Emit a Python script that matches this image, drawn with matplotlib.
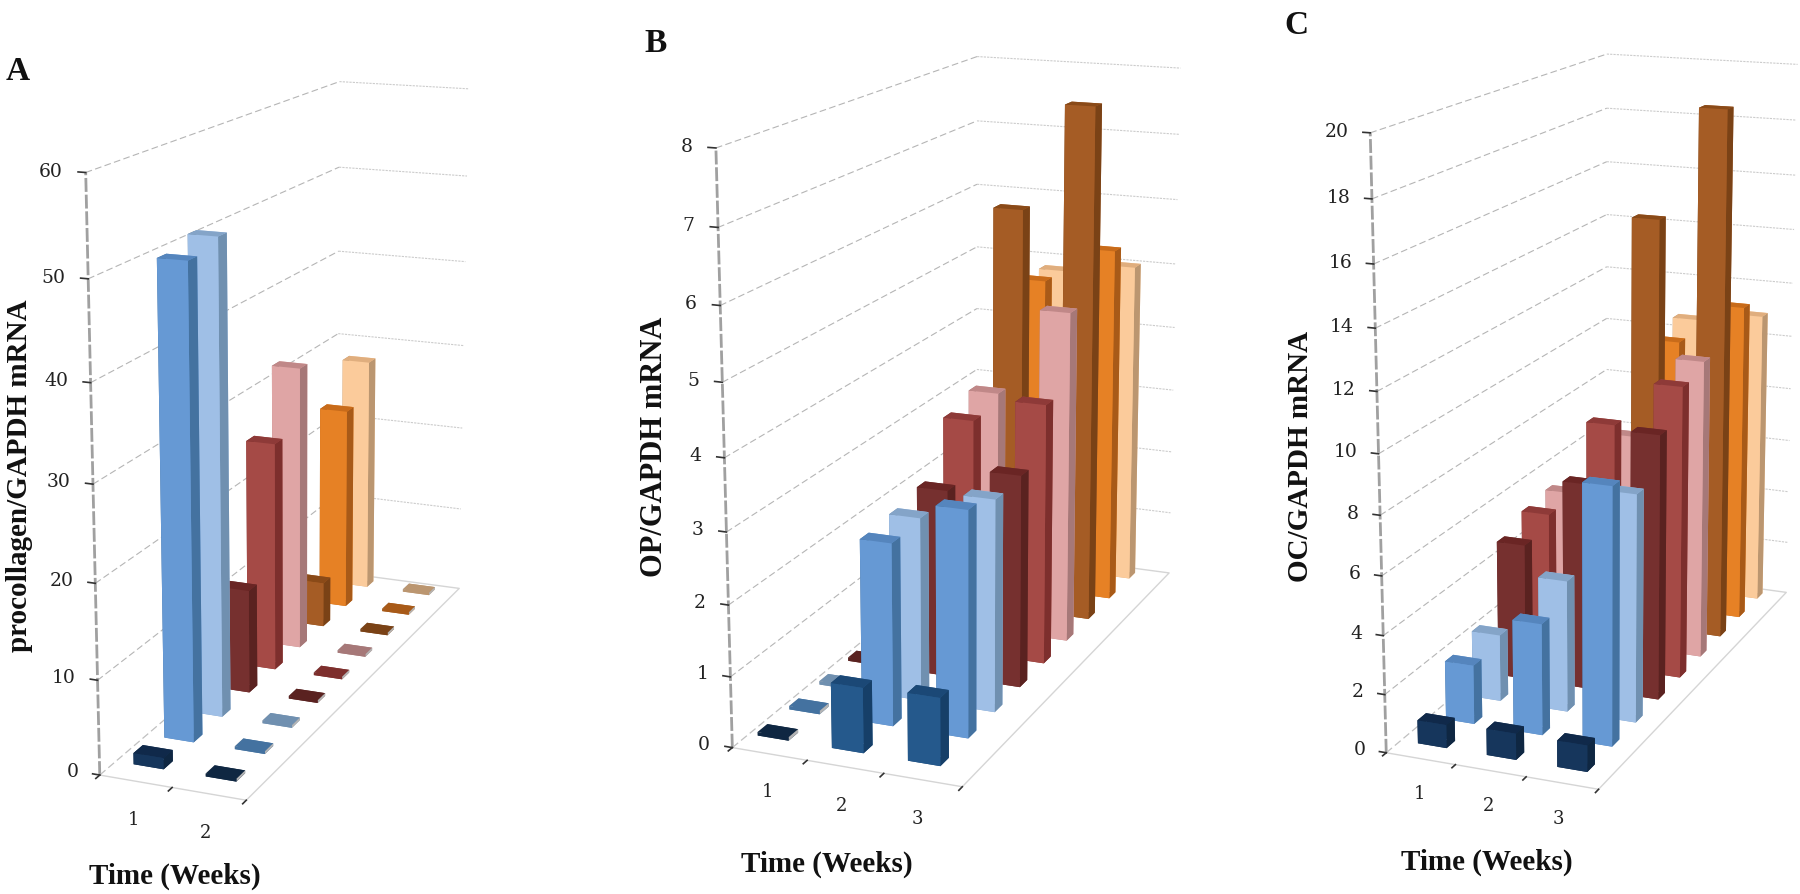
import numpy as np
import matplotlib
matplotlib.use('Agg')
import matplotlib.pyplot as plt

plt.rcParams['font.family'] = ['Liberation Serif', 'DejaVu Serif']

W, H = 1800, 895

# front to back along the depth axis
# dark blue, blue, light blue, dark red, red, pink, dark orange, orange, peach
a_week1 = [1.2, 50, 51, 11.5, 25.7, 32.3, 5.2, 23.7, 27.8]
a_week2 = [0.3, 0.3, 0.3, 0.3, 0.3, 0.3, 0.3, 0.3, 0.3]
b_week1 = [0.05, 0.05, 0.05, 0.05, 0.05, 0.05, 0.05, 0.05, 0.05]
b_week2 = [0.92, 2.6, 2.65, 2.75, 3.5, 3.65, 6.17, 4.9, 4.85]
b_week3 = [0.95, 3.2, 3.05, 3.1, 3.85, 4.95, 7.75, 5.45, 5.0]
c_week1 = [0.8, 2.05, 2.35, 4.85, 5.3, 5.45, 3.0, 3.0, 3.0]
c_week2 = [0.9, 3.85, 4.6, 7.3, 8.8, 7.8, 15.1, 10.2, 10.55]
c_week3 = [0.9, 8.8, 7.9, 9.3, 10.4, 10.75, 19.1, 11.7, 10.9]

a_ticks = [0, 10, 20, 30, 40, 50, 60]
b_ticks = [0, 1, 2, 3, 4, 5, 6, 7, 8]
c_ticks = [0, 2, 4, 6, 8, 10, 12, 14, 16, 18, 20]

# front, side, top for each series
series_colors = [
    ('#16365c', '#0f2742', '#10294a'),
    ('#6699d4', '#4472a0', '#5585bd'),
    ('#9fbfe6', '#7090b0', '#84a4c8'),
    ('#76302f', '#5a2220', '#6a2524'),
    ('#a54a46', '#7d2f2d', '#8e3a38'),
    ('#dfa5a5', '#a67878', '#c08888'),
    ('#a55c25', '#7a4216', '#8a4a18'),
    ('#e68125', '#a85a18', '#c86b1a'),
    ('#fbcb9b', '#bb9670', '#e0ae7e'),
]
b_first_color = ('#25598c', '#163f68', '#1b4876')
tile_shadow = '#b4b4b4'


def draw_panel(rect, weeks, ticks, box, bar_x, first_color=None):
    # rect is left, top, side in pixels of the reference
    left, top, side = rect
    ax = plt.gcf().add_axes([left / W, 1 - (top + side) / H, side / W, side / H], projection='3d')
    n_weeks = len(weeks)
    n_rows = len(weeks[0])
    ax.computed_zorder = False
    ax.set_proj_type('persp', focal_length=0.55)
    ax.view_init(elev=15.5, azim=-68)
    ax.set_box_aspect((box[0] * n_weeks, box[1], box[2]))
    ax.set_xlim(0, n_weeks)
    ax.set_ylim(0, n_rows)
    ax.set_zlim(0, ticks[-1])
    ax.set_axis_off()

    # walls
    for t in ticks[1:]:
        ax.plot([0, 0], [0, n_rows], [t, t], color='#b5b5b5', lw=0.8, ls=(0, (6, 3)), zorder=1)
        ax.plot([0, n_weeks], [n_rows, n_rows], [t, t], color='#cccccc', lw=0.8, ls=(0, (2, 1)), zorder=1)
    ax.plot([0, 0], [0, 0], [0, ticks[-1]], color='#a0a0a0', lw=2, ls=(0, (5, 1)), zorder=1)
    ax.plot([0, n_weeks, n_weeks, 0], [0, 0, n_rows, n_rows], [0, 0, 0, 0], color='#d5d5d5', lw=1, zorder=1)
    ax.plot([0, 0], [0, n_rows], [0, 0], color='#c0c0c0', lw=0.9, ls=(0, (6, 3)), zorder=1)

    # ticks and labels
    for t in ticks:
        ax.plot([-0.1, 0], [0, 0], [t, t], color='#333333', lw=1.2, zorder=2)
        ax.text(-0.3, 0, t, str(t), ha='right', va='center', fontsize=13.5, family='DejaVu Serif',
                color='#222222', zorder=2)
    for i in range(n_weeks + 1):
        ax.plot([i, i], [0, -0.12], [0, 0], color='#333333', lw=1.2, zorder=2)
    for i in range(n_weeks):
        ax.text(0.95 + i * 0.95, -1.1, 0, str(i + 1), ha='center', va='center', fontsize=13, family='DejaVu Serif',
                color='#222222', zorder=2)

    # bars from the back row to the front, so the nearer ones cover the others
    order = 3
    for j in reversed(range(n_rows)):
        for i in range(n_weeks):
            value = weeks[i][j]
            front, sidec, topc = series_colors[j]
            if j == 0 and first_color is not None and value > 0.02 * ticks[-1]:
                front, sidec, topc = first_color
            if value < 0.01 * ticks[-1]:
                # nearly flat bars only show a dark top and a grey edge
                front, sidec, topc = sidec, tile_shadow, sidec
            ax.bar3d(i + bar_x, j + 0.5, 0, 0.42, 0.3, value,
                     color=[topc, topc, front, front, sidec, sidec],
                     shade=False, zorder=order)
            order += 1
    return ax


fig = plt.figure(figsize=(W / 100, H / 100), dpi=100)

draw_panel((-125.5, 8.5, 823), [a_week1, a_week2], a_ticks, (68, 563, 520), 0.25)
draw_panel((537, -23, 844), [b_week1, b_week2, b_week3], b_ticks, (71, 563, 520), 0.12, b_first_color)
draw_panel((1183.5, -6.5, 817), [c_week1, c_week2, c_week3], c_ticks, (66, 510, 540), 0.25)

label_font = dict(fontweight='bold', color='#111111')
fig.text(18 / W, 1 - 71 / H, 'A', fontsize=24, ha='center', va='center', **label_font)
fig.text(656 / W, 1 - 44 / H, 'B', fontsize=24, ha='center', va='center', **label_font)
fig.text(1296 / W, 1 - 25 / H, 'C', fontsize=24, ha='center', va='center', **label_font)

fig.text(20 / W, 1 - 476 / H, 'procollagen/GAPDH mRNA', rotation=90, fontsize=21, ha='center', va='center', **label_font)
fig.text(655 / W, 1 - 447 / H, 'OP/GAPDH mRNA', rotation=90, fontsize=22, ha='center', va='center', **label_font)
fig.text(1300 / W, 1 - 456 / H, 'OC/GAPDH mRNA', rotation=90, fontsize=21, ha='center', va='center', **label_font)

fig.text(175 / W, 1 - 876 / H, 'Time (Weeks)', fontsize=21, ha='center', va='center', **label_font)
fig.text(827 / W, 1 - 864 / H, 'Time (Weeks)', fontsize=21, ha='center', va='center', **label_font)
fig.text(1487 / W, 1 - 862 / H, 'Time (Weeks)', fontsize=21, ha='center', va='center', **label_font)

fig.savefig('out.png', dpi=100)
